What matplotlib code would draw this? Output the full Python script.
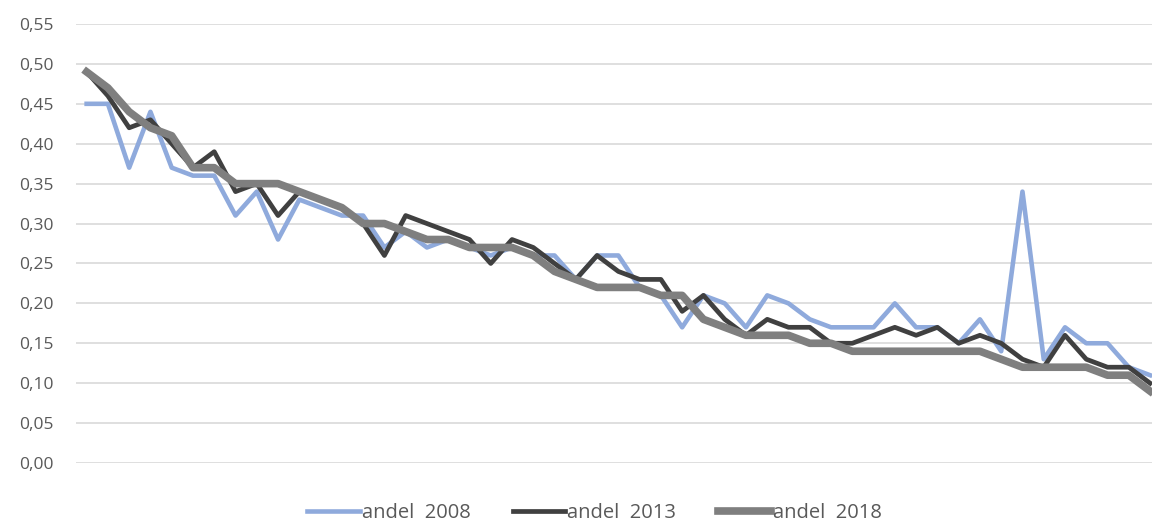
import matplotlib
matplotlib.use("Agg")
import matplotlib.pyplot as plt
from matplotlib.ticker import FuncFormatter, MultipleLocator

andel_2008 = [0.45, 0.45, 0.37, 0.44, 0.37, 0.36, 0.36, 0.31, 0.34, 0.28,
              0.33, 0.32, 0.31, 0.31, 0.27, 0.29, 0.27, 0.28, 0.27, 0.26,
              0.27, 0.26, 0.26, 0.23, 0.26, 0.26, 0.22, 0.21, 0.17, 0.21,
              0.20, 0.17, 0.21, 0.20, 0.18, 0.17, 0.17, 0.17, 0.20, 0.17,
              0.17, 0.15, 0.18, 0.14, 0.34, 0.13, 0.17, 0.15, 0.15, 0.12,
              0.11]
andel_2013 = [0.49, 0.46, 0.42, 0.43, 0.40, 0.37, 0.39, 0.34, 0.35, 0.31,
              0.34, 0.33, 0.32, 0.30, 0.26, 0.31, 0.30, 0.29, 0.28, 0.25,
              0.28, 0.27, 0.25, 0.23, 0.26, 0.24, 0.23, 0.23, 0.19, 0.21,
              0.18, 0.16, 0.18, 0.17, 0.17, 0.15, 0.15, 0.16, 0.17, 0.16,
              0.17, 0.15, 0.16, 0.15, 0.13, 0.12, 0.16, 0.13, 0.12, 0.12,
              0.10]
andel_2018 = [0.49, 0.47, 0.44, 0.42, 0.41, 0.37, 0.37, 0.35, 0.35, 0.35,
              0.34, 0.33, 0.32, 0.30, 0.30, 0.29, 0.28, 0.28, 0.27, 0.27,
              0.27, 0.26, 0.24, 0.23, 0.22, 0.22, 0.22, 0.21, 0.21, 0.18,
              0.17, 0.16, 0.16, 0.16, 0.15, 0.15, 0.14, 0.14, 0.14, 0.14,
              0.14, 0.14, 0.14, 0.13, 0.12, 0.12, 0.12, 0.12, 0.11, 0.11,
              0.09]
series_labels = ["andel  2008", "andel  2013", "andel  2018"]

plt.rcParams['font.family'] = ['Open Sans', 'DejaVu Sans']

fig = plt.figure(figsize=(11.52, 5.24), dpi=100)
W, H = 1152, 524
ax = fig.add_axes([76 / W, (524 - 463) / H, (1152 - 76) / W, (463 - 24) / H])

x = list(range(len(andel_2008)))
ax.plot(x, andel_2008, color="#8FAADC", lw=3.3, solid_joinstyle="round", label=series_labels[0], zorder=3)
ax.plot(x, andel_2013, color="#404040", lw=3.4, solid_joinstyle="round", label=series_labels[1], zorder=4)
ax.plot(x, andel_2018, color="#7F7F7F", lw=5.5, solid_joinstyle="round", label=series_labels[2], zorder=5)

ax.set_xlim(-0.5, 50.09)
ax.set_ylim(0, 0.55)
ax.yaxis.set_major_locator(MultipleLocator(0.05))
ax.yaxis.set_major_formatter(FuncFormatter(lambda v, p: f"{v:.2f}".replace(".", ",")))
ax.set_xticks([])
ax.grid(axis="y", color="#D9D9D9", lw=1.2, zorder=0)
ax.set_axisbelow(True)
for s in ax.spines.values():
    s.set_visible(False)
ax.tick_params(axis="y", length=0, pad=16, labelsize=12.5, labelcolor="#595959")

fig.legend(loc="center", bbox_to_anchor=(0.516, (524 - 513) / H), ncol=3, frameon=False,
           fontsize=14.5, handlelength=2.6, handletextpad=0.1, columnspacing=2.1,
           labelcolor="#595959")

fig.savefig("out.png", dpi=100)
